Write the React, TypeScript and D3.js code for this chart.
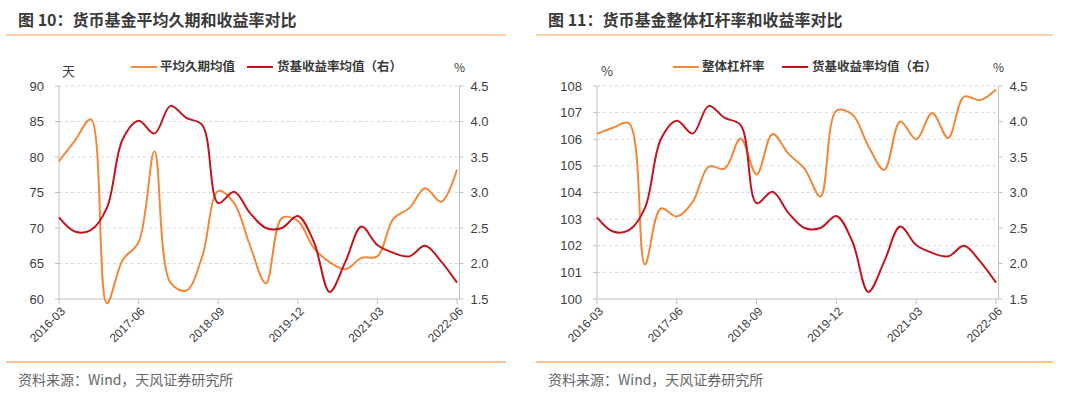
import React from 'react';
import * as d3 from 'd3';

// quarterly observations, 2016-03 .. 2022-06
const quarters = [
  '2016-03', '2016-06', '2016-09', '2016-12', '2017-03', '2017-06', '2017-09', '2017-12',
  '2018-03', '2018-06', '2018-09', '2018-12', '2019-03', '2019-06', '2019-09', '2019-12',
  '2020-03', '2020-06', '2020-09', '2020-12', '2021-03', '2021-06', '2021-09', '2021-12',
  '2022-03', '2022-06',
];
const xTickLabels = ['2016-03', '2017-06', '2018-09', '2019-12', '2021-03', '2022-06'];

// 平均久期均值 (天)
const avgDuration = [
  79.4, 82.3, 85.3, 59.4, 65.5, 68.0, 80.8, 62.3, 61.2, 66.0, 75.2, 73.5, 67.5,
  62.2, 71.4, 71.0, 67.2, 65.2, 64.2, 65.8, 66.0, 71.3, 72.8, 75.6, 73.7, 78.2,
];
// 整体杠杆率 (%)
const leverage = [
  106.2, 106.43, 106.6, 101.3, 103.4, 103.1, 103.65, 104.97, 104.9, 106.03, 104.68, 106.2, 105.45,
  104.9, 103.85, 107.07, 106.93, 105.75, 104.85, 106.67, 106.0, 106.99, 106.05, 107.6, 107.47, 107.87,
];
// 货基收益率均值 (%)
const mmfYield = [
  2.65, 2.45, 2.47, 2.78, 3.75, 4.01, 3.83, 4.22, 4.05, 3.95, 2.85, 3.01, 2.71,
  2.5, 2.5, 2.67, 2.31, 1.6, 2.03, 2.52, 2.26, 2.15, 2.1, 2.25, 2.03, 1.73,
];

const durationTicks = [60, 65, 70, 75, 80, 85, 90];
const leverageTicks = [100, 101, 102, 103, 104, 105, 106, 107, 108];
const yieldTicks = [1.5, 2.0, 2.5, 3.0, 3.5, 4.0, 4.5];

const ORANGE = '#F0883A';
const RED = '#C0161E';
const LINE_LIGHT = '#F9C28E';
const CJK = '"Noto Sans CJK SC", "Noto Sans", sans-serif';
const LATIN = '"Liberation Sans", Arial, sans-serif';

type PanelProps = {
  frameX: number;
  frameW: number;
  plotLeft: number;
  plotRight: number;
  title: string;
  leftUnit: string;
  leftUnitX: number;
  leftSeries: number[];
  leftTicks: number[];
  leftName: string;
  legendX: number;
  legendGap: number;
};

const top = 86;
const bottom = 299;

const Panel = (p: PanelProps) => {
  const x = d3.scalePoint<string>().domain(quarters).range([p.plotLeft, p.plotRight]);
  const yL = d3.scaleLinear()
    .domain([p.leftTicks[0], p.leftTicks[p.leftTicks.length - 1]])
    .range([bottom, top]);
  const yR = d3.scaleLinear().domain([1.5, 4.5]).range([bottom, top]);
  const axisRight = p.plotRight + 2.5;

  const curve = d3.curveCatmullRom.alpha(0.5);
  const lineL = d3.line<number>().x((_, i) => x(quarters[i])!).y(d => yL(d)).curve(curve);
  const lineR = d3.line<number>().x((_, i) => x(quarters[i])!).y(d => yR(d)).curve(curve);

  const fx = p.frameX;
  return (
    <g>
      <text x={fx + 18} y={26} fontFamily={CJK} fontWeight="bold" fontSize={16} fill="#3a3a3a">
        {p.title}
      </text>
      <line x1={fx + 6} x2={fx + p.frameW} y1={35} y2={35} stroke={LINE_LIGHT} strokeWidth={1.5} />

      {/* grid */}
      {p.leftTicks.slice(1).map(t => (
        <line key={t} x1={p.plotLeft} x2={axisRight} y1={yL(t)} y2={yL(t)}
          stroke="#D9D9D9" strokeWidth={1} strokeDasharray="3,3" />
      ))}

      {/* axes */}
      <line x1={p.plotLeft} x2={p.plotLeft} y1={top} y2={bottom} stroke="#BFBFBF" />
      <line x1={axisRight} x2={axisRight} y1={top} y2={bottom} stroke="#BFBFBF" />
      <line x1={p.plotLeft} x2={axisRight} y1={bottom} y2={bottom} stroke="#BFBFBF" />

      {p.leftTicks.map(t => (
        <g key={t}>
          <line x1={p.plotLeft - 4} x2={p.plotLeft} y1={yL(t)} y2={yL(t)} stroke="#BFBFBF" />
          <text x={p.plotLeft - 15} y={yL(t)} dy="0.35em" textAnchor="end"
            fontFamily={LATIN} fontSize={13} fill="#404040">{t}</text>
        </g>
      ))}
      {yieldTicks.map(t => (
        <g key={t}>
          <line x1={axisRight} x2={axisRight + 4} y1={yR(t)} y2={yR(t)} stroke="#BFBFBF" />
          <text x={axisRight + 11} y={yR(t)} dy="0.35em" textAnchor="start"
            fontFamily={LATIN} fontSize={13} fill="#404040">{t.toFixed(1)}</text>
        </g>
      ))}
      {xTickLabels.map(q => (
        <g key={q}>
          <line x1={x(q)} x2={x(q)} y1={bottom} y2={bottom + 5} stroke="#BFBFBF" />
          <text transform={`translate(${x(q)! + 4},${bottom + 10}) rotate(-45)`}
            textAnchor="end" dy="0.35em" fontFamily={LATIN} fontSize={12} fill="#404040">{q}</text>
        </g>
      ))}

      {/* units */}
      <text x={p.leftUnitX} y={71} dy="0.35em" fontFamily={CJK} fontSize={13} fill="#404040">{p.leftUnit}</text>
      <text x={axisRight} y={68} dy="0.35em" textAnchor="middle" fontFamily={CJK} fontSize={12} fill="#404040">%</text>

      {/* series */}
      <path d={lineL(p.leftSeries)!} fill="none" stroke={ORANGE} strokeWidth={2} />
      <path d={lineR(mmfYield)!} fill="none" stroke={RED} strokeWidth={2} />

      {/* legend */}
      <g transform={`translate(${p.legendX},67)`}>
        <line x1={0} x2={26} y1={0} y2={0} stroke={ORANGE} strokeWidth={2} />
        <text x={29} y={0} dy="0.35em" fontFamily={CJK} fontWeight="bold" fontSize={12.5} fill="#3a3a3a">{p.leftName}</text>
        <line x1={p.legendGap} x2={p.legendGap + 26} y1={0} y2={0} stroke={RED} strokeWidth={2} />
        <text x={p.legendGap + 30} y={0} dy="0.35em" fontFamily={CJK} fontWeight="bold" fontSize={12.5} fill="#3a3a3a">货基收益率均值（右）</text>
      </g>

      <line x1={fx + 6} x2={fx + p.frameW} y1={362} y2={362} stroke={LINE_LIGHT} strokeWidth={2} />
      <text x={fx + 18} y={385} fontFamily={CJK} fontSize={14} fill="#666666">资料来源：Wind，天风证券研究所</text>
    </g>
  );
};

export default function App() {
  return (
    <div style={{ position: 'absolute', left: 0, top: 0 }}>
      <svg width={1080} height={397} style={{ display: 'block', background: '#fff' }}>
        <Panel
          frameX={0}
          frameW={506}
          plotLeft={59}
          plotRight={457}
          title="图 10：货币基金平均久期和收益率对比"
          leftUnit="天"
          leftUnitX={62}
          leftSeries={avgDuration}
          leftTicks={durationTicks}
          leftName="平均久期均值"
          legendX={131}
          legendGap={116}
        />
        <Panel
          frameX={530}
          frameW={523}
          plotLeft={597}
          plotRight={996}
          title="图 11：货币基金整体杠杆率和收益率对比"
          leftUnit="%"
          leftUnitX={601}
          leftSeries={leverage}
          leftTicks={leverageTicks}
          leftName="整体杠杆率"
          legendX={673}
          legendGap={109}
        />
      </svg>
    </div>
  );
}
